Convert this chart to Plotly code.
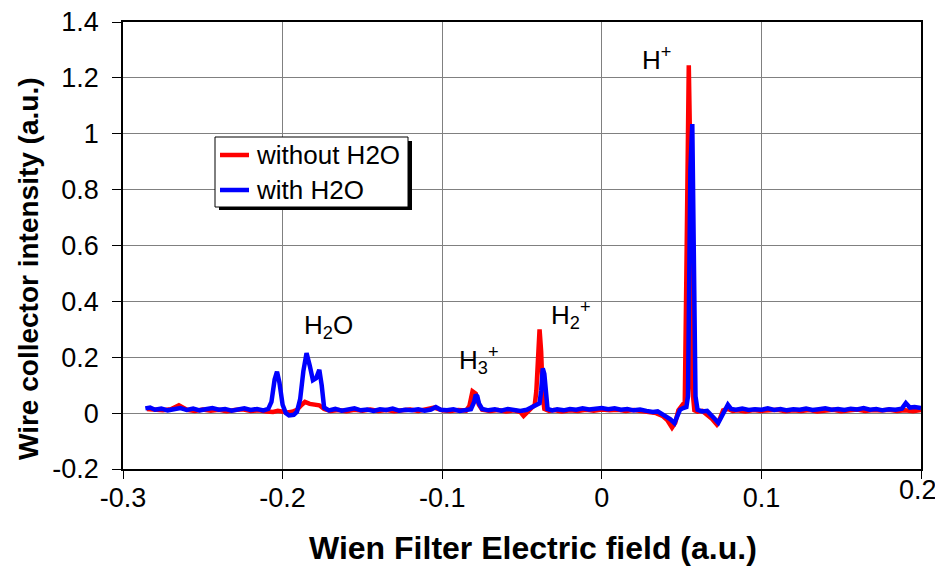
import plotly.graph_objects as go

# ---------------- data ----------------
red_x = [-0.285, -0.280, -0.275, -0.270, -0.265, -0.260, -0.255, -0.250, -0.245, -0.240,
         -0.235, -0.230, -0.225, -0.220, -0.215, -0.210, -0.206, -0.203, -0.200, -0.197,
         -0.194, -0.191, -0.188, -0.186, -0.183, -0.180, -0.177, -0.174, -0.170, -0.165,
         -0.160, -0.155, -0.150, -0.145, -0.140, -0.135, -0.130, -0.125, -0.120, -0.115,
         -0.110, -0.105, -0.100, -0.095, -0.090, -0.085, -0.083, -0.081, -0.079, -0.077,
         -0.075, -0.070, -0.065, -0.060, -0.055, -0.051, -0.049, -0.047, -0.044, -0.042,
         -0.041, -0.040, -0.039, -0.038, -0.037, -0.036, -0.033, -0.030, -0.025, -0.020,
         -0.015, -0.010, -0.005, 0.000, 0.005, 0.010, 0.015, 0.020, 0.025, 0.030,
         0.034, 0.038, 0.041, 0.044, 0.046, 0.048, 0.050, 0.051, 0.052, 0.053,
         0.0545, 0.0555, 0.0565, 0.058, 0.060, 0.063, 0.066, 0.069, 0.072, 0.074,
         0.076, 0.079, 0.082, 0.085, 0.090, 0.095, 0.100, 0.105, 0.110, 0.115,
         0.120, 0.125, 0.130, 0.135, 0.140, 0.145, 0.150, 0.155, 0.160, 0.165,
         0.170, 0.175, 0.180, 0.185, 0.190, 0.195, 0.200]
red_y = [0.015, 0.012, 0.010, 0.014, 0.028, 0.012, 0.008, 0.013, 0.009, 0.012,
         0.007, 0.011, 0.014, 0.008, 0.010, 0.006, 0.004, 0.008, 0.003, 0.002,
         0.005, 0.012, 0.030, 0.040, 0.033, 0.030, 0.028, 0.015, 0.008, 0.011,
         0.007, 0.012, 0.009, 0.013, 0.008, 0.011, 0.007, 0.010, 0.013, 0.008,
         0.012, 0.020, 0.010, 0.008, 0.011, 0.009, 0.025, 0.078, 0.070, 0.030,
         0.012, 0.008, 0.011, 0.006, 0.010, 0.004, -0.010, 0.002, 0.015, 0.030,
         0.080, 0.240, 0.300, 0.220, 0.060, 0.015, 0.008, 0.011, 0.006, 0.010,
         0.008, 0.012, 0.009, 0.013, 0.010, 0.012, 0.008, 0.011, 0.006, 0.005,
         0.000, -0.010, -0.025, -0.052, -0.035, 0.010, 0.025, 0.030, 0.040, 0.500,
         1.245, 0.900, 0.100, 0.010, 0.005, 0.008, -0.005, -0.020, -0.040, -0.020,
         0.010, 0.015, 0.008, 0.010, 0.006, 0.011, 0.008, 0.010, 0.012, 0.007,
         0.010, 0.008, 0.011, 0.006, 0.010, 0.012, 0.007, 0.010, 0.013, 0.008,
         0.011, 0.009, 0.012, 0.008, 0.010, 0.007, 0.011]

blue_x = [-0.286, -0.283, -0.280, -0.276, -0.272, -0.268, -0.264, -0.260, -0.256, -0.252,
          -0.248, -0.244, -0.240, -0.236, -0.232, -0.228, -0.224, -0.220, -0.216, -0.212,
          -0.209, -0.207, -0.205, -0.2035, -0.202, -0.200, -0.198, -0.196, -0.193, -0.191,
          -0.189, -0.187, -0.185, -0.183, -0.181, -0.179, -0.177, -0.1755, -0.174, -0.171,
          -0.167, -0.163, -0.159, -0.155, -0.151, -0.147, -0.143, -0.139, -0.135, -0.131,
          -0.127, -0.123, -0.119, -0.115, -0.111, -0.107, -0.104, -0.101, -0.097, -0.093,
          -0.089, -0.085, -0.082, -0.080, -0.079, -0.078, -0.077, -0.075, -0.071, -0.067,
          -0.063, -0.059, -0.055, -0.051, -0.047, -0.044, -0.041, -0.039, -0.038, -0.037,
          -0.036, -0.035, -0.034, -0.031, -0.028, -0.024, -0.020, -0.016, -0.012, -0.008,
          -0.004, 0.000, 0.004, 0.008, 0.012, 0.016, 0.020, 0.024, 0.028, 0.032,
          0.035, 0.038, 0.041, 0.043, 0.0455, 0.0475, 0.049, 0.051, 0.053, 0.054,
          0.0555, 0.0567, 0.0577, 0.0587, 0.060, 0.063, 0.066, 0.069, 0.071, 0.073,
          0.075, 0.077, 0.079, 0.081, 0.084, 0.088, 0.092, 0.096, 0.100, 0.104,
          0.108, 0.112, 0.116, 0.120, 0.124, 0.128, 0.132, 0.136, 0.140, 0.144,
          0.148, 0.152, 0.156, 0.160, 0.164, 0.168, 0.172, 0.176, 0.180, 0.184,
          0.188, 0.1905, 0.193, 0.196, 0.200]
blue_y = [0.017, 0.020, 0.012, 0.016, 0.010, 0.015, 0.018, 0.011, 0.016, 0.010,
          0.014, 0.018, 0.012, 0.015, 0.009, 0.014, 0.017, 0.011, 0.015, 0.010,
          0.015, 0.040, 0.120, 0.148, 0.110, 0.030, 0.000, -0.008, -0.006, 0.005,
          0.050, 0.150, 0.215, 0.170, 0.118, 0.125, 0.155, 0.100, 0.020, 0.010,
          0.015, 0.009, 0.014, 0.017, 0.010, 0.013, 0.008, 0.014, 0.011, 0.016,
          0.009, 0.012, 0.010, 0.014, 0.009, 0.013, 0.022, 0.012, 0.010, 0.014,
          0.008, 0.012, 0.014, 0.040, 0.066, 0.060, 0.035, 0.015, 0.010, 0.014,
          0.009, 0.015, 0.011, 0.008, 0.012, 0.020, 0.026, 0.035, 0.080, 0.160,
          0.140, 0.050, 0.015, 0.010, 0.014, 0.010, 0.015, 0.012, 0.017, 0.013,
          0.016, 0.018, 0.014, 0.017, 0.012, 0.015, 0.010, 0.013, 0.008, 0.004,
          0.006, -0.003, -0.012, -0.022, -0.036, -0.010, 0.012, 0.018, 0.022, 0.060,
          0.870, 1.035, 0.650, 0.060, 0.012, 0.006, 0.008, -0.008, -0.022, -0.035,
          -0.012, 0.012, 0.030, 0.015, 0.012, 0.016, 0.011, 0.014, 0.012, 0.017,
          0.011, 0.015, 0.010, 0.014, 0.012, 0.016, 0.011, 0.014, 0.017, 0.012,
          0.015, 0.011, 0.016, 0.013, 0.018, 0.012, 0.015, 0.010, 0.014, 0.012,
          0.016, 0.036, 0.020, 0.022, 0.018]

series_names = ["without H2O", "with H2O"]
series_colors = ["#FF0000", "#0000FF"]

x_ticks = [-0.3, -0.2, -0.1, 0.0, 0.1, 0.2]
x_tick_text = ["-0.3", "-0.2", "-0.1", "0", "0.1", "0.2"]
y_ticks = [-0.2, 0.0, 0.2, 0.4, 0.6, 0.8, 1.0, 1.2, 1.4]
y_tick_text = ["-0.2", "0", "0.2", "0.4", "0.6", "0.8", "1", "1.2", "1.4"]

peak_labels = ["H<sup>+</sup>", "H<sub>2</sub>O", "H<sub>3</sub><sup>+</sup>", "H<sub>2</sub><sup>+</sup>"]
peak_label_x = [0.034, -0.171, -0.077, -0.019]
peak_label_y = [1.27, 0.31, 0.19, 0.35]

# ---------------- layout helpers ----------------
# The page body adds an 8px margin (top/left), so the figure is drawn 8px
# smaller and all target positions (window pixels) are shifted by 8.
WIN_W, WIN_H, OFF = 943, 572, 8
W, H = WIN_W - OFF, WIN_H - OFF
L, R, T, B = 123, 921, 22, 469          # plot area in window pixels
PW, PH = R - L, B - T


def px(xp):
    return (xp - L) / PW


def py(yp):
    return (B - yp) / PH


FONT = "Liberation Sans, Arial, sans-serif"
TICK_SIZE = 27
fig = go.Figure()
for xs, ys, nm, col in zip([red_x, blue_x], [red_y, blue_y], series_names, series_colors):
    fig.add_trace(go.Scatter(x=xs, y=ys, mode="lines", name=nm,
                             line=dict(color=col, width=4.5)))

for t, x, y in zip(peak_labels, peak_label_x, peak_label_y):
    fig.add_annotation(x=x, y=y, text=t, showarrow=False, xanchor="center", yanchor="middle",
                       font=dict(family=FONT, size=26, color="black"))

# last x tick label drawn as annotation so it is not clipped at the right edge
shown_x_text = x_tick_text[:-1] + [""]
fig.add_annotation(xref="paper", yref="paper", x=px(939), y=py(490), xanchor="right", yanchor="middle",
                   text=x_tick_text[-1], showarrow=False,
                   font=dict(family=FONT, size=TICK_SIZE, color="black"))

# axis titles
fig.add_annotation(xref="paper", yref="paper", x=px(533), y=py(548), xanchor="center", yanchor="middle",
                   text="<b>Wien Filter Electric field (a.u.)</b>",
                   showarrow=False, font=dict(family=FONT, size=32, color="black"))
fig.add_annotation(xref="paper", yref="paper", x=px(28), y=py(269), xanchor="center", yanchor="middle",
                   text="<b>Wire collector intensity (a.u.)</b>",
                   showarrow=False, textangle=-90, font=dict(family=FONT, size=28, color="black"))

# legend (drawn box with shadow)
fig.add_shape(type="rect", xref="paper", yref="paper", layer="above",
              x0=px(219), x1=px(412), y0=py(210), y1=py(141),
              fillcolor="black", line=dict(width=0))
fig.add_shape(type="rect", xref="paper", yref="paper", layer="above",
              x0=px(215), x1=px(408), y0=py(207), y1=py(137),
              fillcolor="white", line=dict(color="black", width=1))
for i, (nm, col) in enumerate(zip(series_names, series_colors)):
    yc = 155 + i * 35
    fig.add_shape(type="line", xref="paper", yref="paper", layer="above",
                  x0=px(220), x1=px(249), y0=py(yc), y1=py(yc),
                  line=dict(color=col, width=4.5))
    fig.add_annotation(xref="paper", yref="paper", x=px(254), y=py(yc), xanchor="left",
                       yanchor="middle", text=nm, showarrow=False,
                       font=dict(family=FONT, size=26, color="black"))

fig.update_layout(
    width=W, height=H,
    margin=dict(l=L - OFF, r=WIN_W - R, t=T - OFF, b=WIN_H - B, autoexpand=False),
    paper_bgcolor="white", plot_bgcolor="white",
    font=dict(family=FONT, size=26, color="black"),
    showlegend=False,
)
fig.update_xaxes(range=[-0.3, 0.2], tickvals=x_ticks, ticktext=shown_x_text, automargin=False,
                 showgrid=True, gridcolor="#808080", gridwidth=1,
                 zeroline=False, showline=True, linecolor="black", linewidth=1.5, mirror=True,
                 ticks="outside", ticklen=8, tickcolor="black", ticklabelstandoff=-4,
                 ticklabeloverflow="allow",
                 tickfont=dict(family=FONT, size=TICK_SIZE, color="black"))
fig.update_yaxes(range=[-0.2, 1.4], tickvals=y_ticks, ticktext=y_tick_text, automargin=False,
                 showgrid=True, gridcolor="#808080", gridwidth=1,
                 zeroline=True, zerolinecolor="#808080", zerolinewidth=1,
                 showline=True, linecolor="black", linewidth=1.5, mirror=True,
                 ticks="outside", ticklen=9, tickcolor="black", ticklabelstandoff=8,
                 ticklabeloverflow="allow",
                 tickfont=dict(family=FONT, size=TICK_SIZE, color="black"))

fig.write_html("out.html")
